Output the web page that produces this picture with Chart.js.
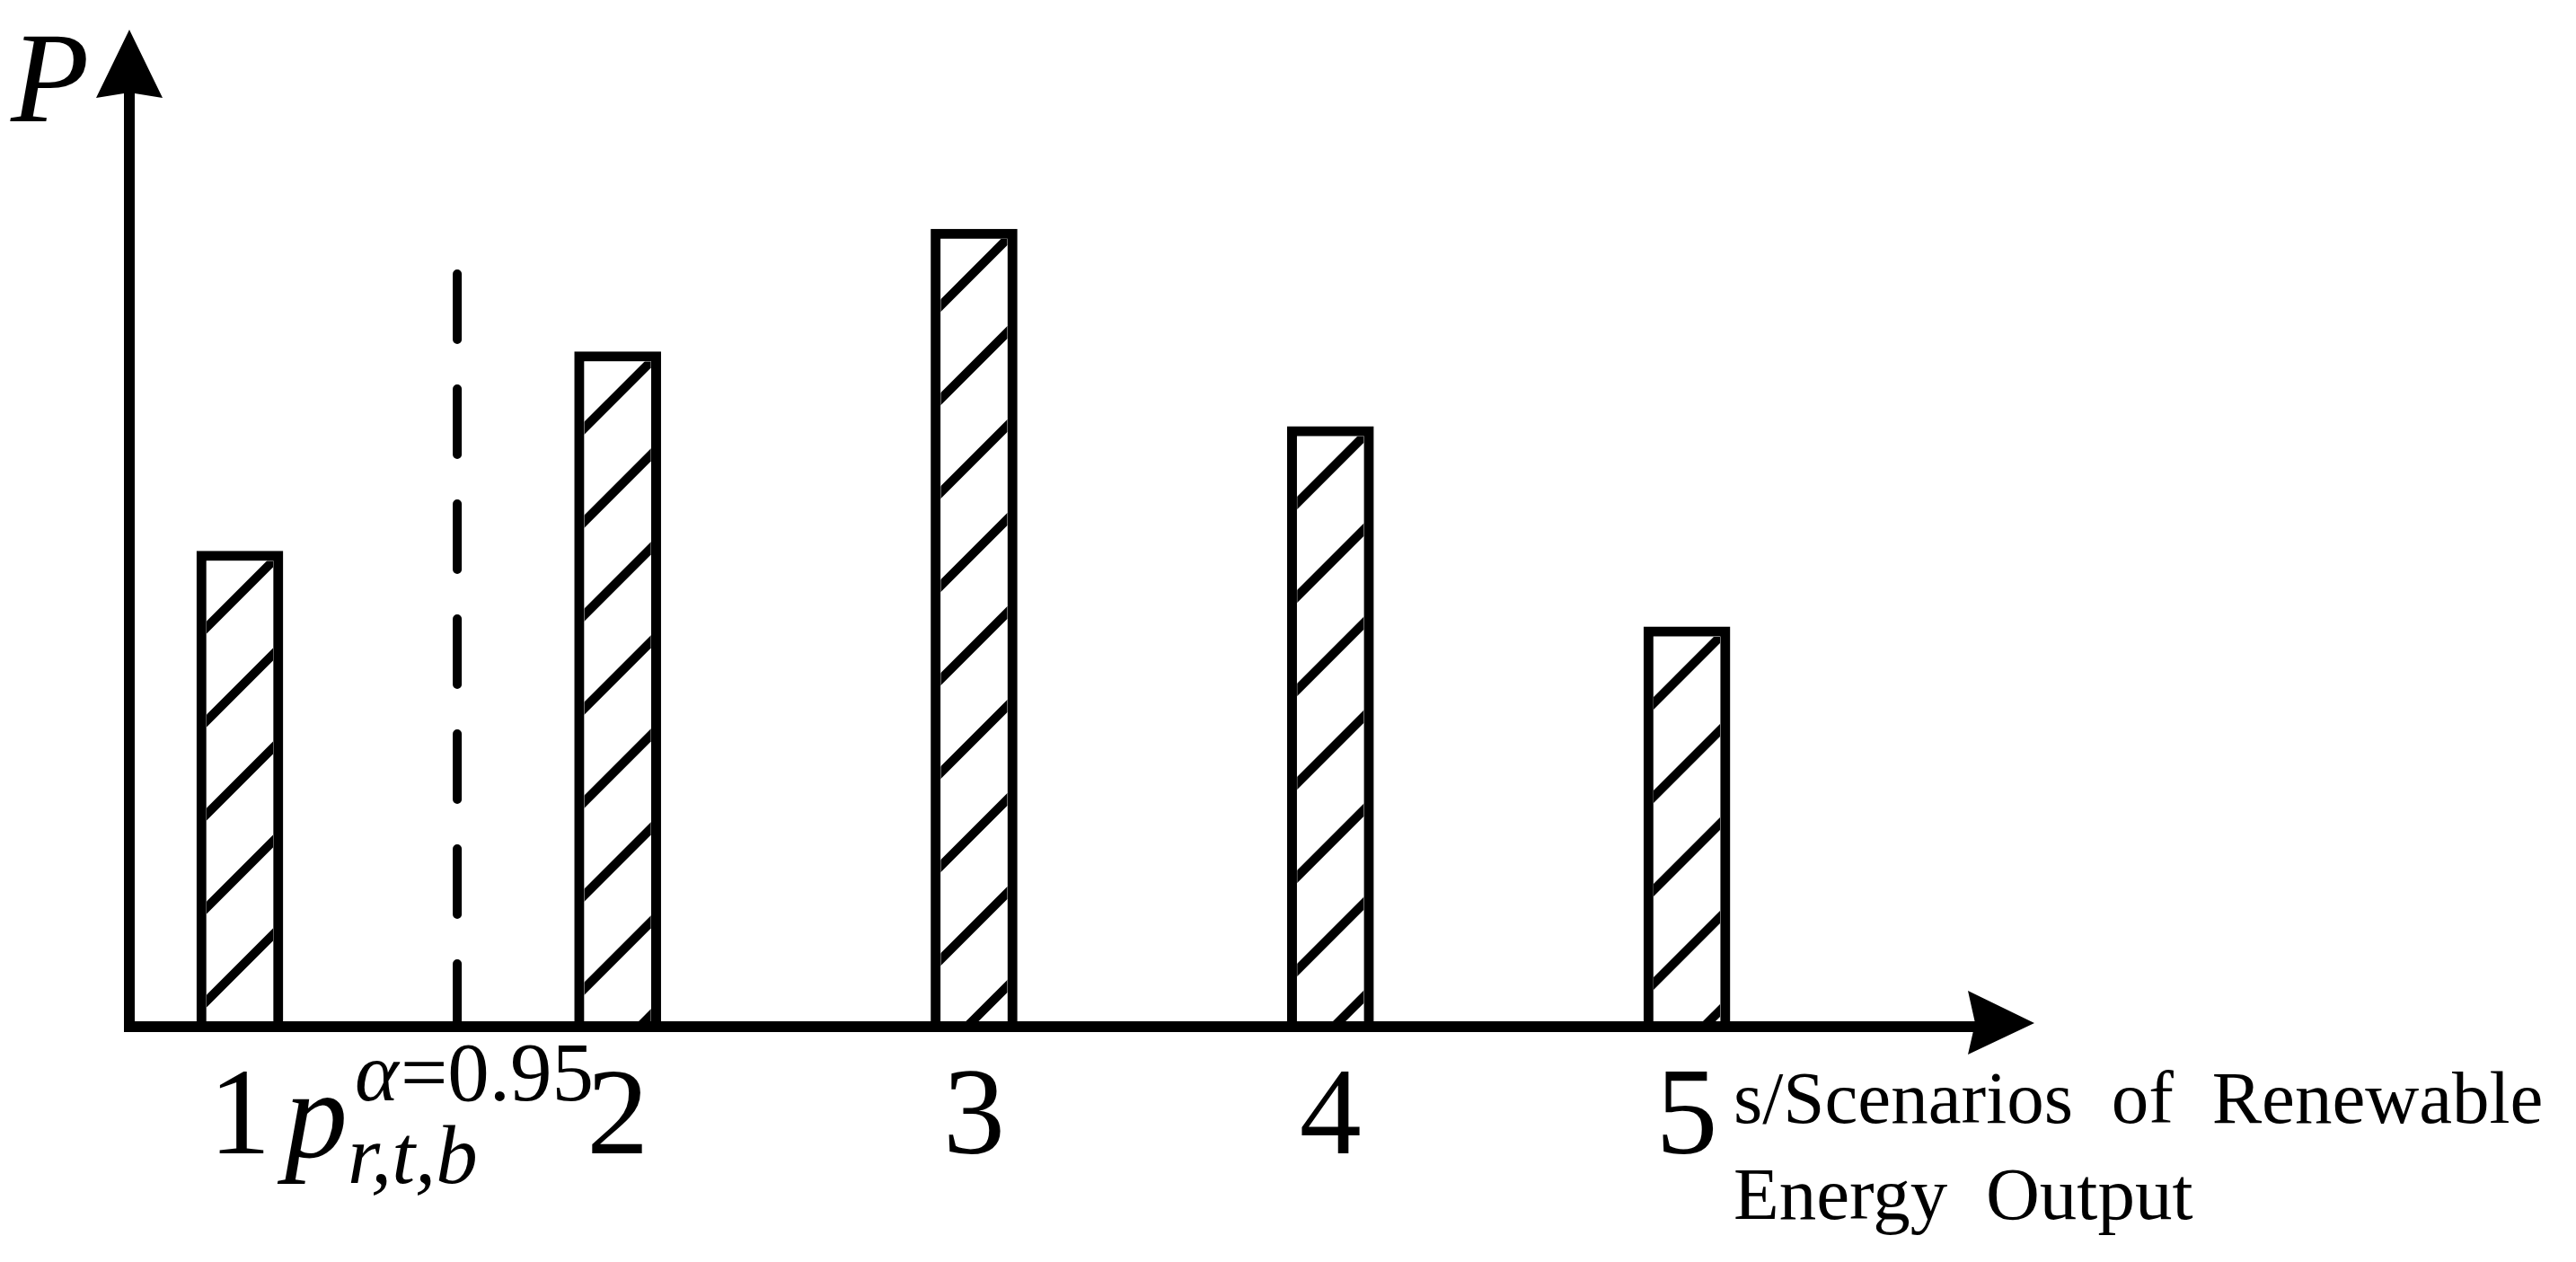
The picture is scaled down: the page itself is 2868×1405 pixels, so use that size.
<!DOCTYPE html>
<html>
<head>
<meta charset="utf-8">
<script src="https://cdn.jsdelivr.net/npm/chart.js@4/dist/chart.umd.min.js"></script>
<style>
  html, body { margin: 0; padding: 0; background: #fff; }
  canvas { display: block; }
</style>
</head>
<body>
<canvas id="chart" width="2868" height="1405"></canvas>
<script>
// Scénarios de production renouvelable (unités arbitraires)
const scenarioLabels = ['1', '2', '3', '4', '5'];
const scenarioPos = [0.94, 2, 3, 4, 5];
const powerValues = [4.77, 6.77, 8.0, 6.02, 4.01];

// Seuil p^{α=0.95} (ligne en pointillés)
const varPos = 1.55;
const varTop = 7.55;

const xRange = [0.63, 5.975];
const yRange = [0, 10];

const axisTitleLines = ['s/Scenarios of Renewable', 'Energy Output'];
const SERIF = '"Liberation Serif", "Times New Roman", serif';

// Hachures "/" dans chaque barre
const hatchPlugin = {
    id: 'hatch',
    afterDatasetDraw(chart, args) {
        if (args.index !== 0) return;
        const ctx = chart.ctx;
        const bw = 11, step = 104;
        chart.getDatasetMeta(0).data.forEach(bar => {
            const { x, y, base, width } = bar.getProps(['x', 'y', 'base', 'width'], true);
            const l = x - width / 2 + bw, r = x + width / 2 - bw, t = y + bw;
            const w = r - l;
            ctx.save();
            ctx.beginPath();
            ctx.rect(l, t, w, base - t);
            ctx.clip();
            ctx.strokeStyle = '#000';
            ctx.lineWidth = 10;
            for (let yy = t; yy < base + w; yy += step) {
                ctx.beginPath();
                ctx.moveTo(r + 20, yy - 20);
                ctx.lineTo(l - 20, yy + w + 20);
                ctx.stroke();
            }
            ctx.restore();
        });
    }
};

// Axes avec flèches + textes
const axesPlugin = {
    id: 'axes',
    afterDraw(chart) {
        const ctx = chart.ctx;
        const { left, right, top, bottom } = chart.chartArea;
        ctx.save();
        ctx.fillStyle = '#000';
        ctx.strokeStyle = '#000';
        ctx.lineWidth = 12;
        ctx.lineCap = 'butt';
        // axe vertical
        ctx.beginPath();
        ctx.moveTo(left, bottom + 6);
        ctx.lineTo(left, top + 70);
        ctx.stroke();
        // axe horizontal
        ctx.beginPath();
        ctx.moveTo(left - 6, bottom);
        ctx.lineTo(right - 65, bottom);
        ctx.stroke();
        // flèche haut
        ctx.beginPath();
        ctx.moveTo(left, top);
        ctx.lineTo(left + 37, top + 76);
        ctx.lineTo(left, top + 70);
        ctx.lineTo(left - 37, top + 76);
        ctx.closePath();
        ctx.fill();
        // flèche droite
        ctx.beginPath();
        ctx.moveTo(right, bottom - 4);
        ctx.lineTo(right - 74, bottom - 40);
        ctx.lineTo(right - 66, bottom - 4);
        ctx.lineTo(right - 74, bottom + 31);
        ctx.closePath();
        ctx.fill();

        ctx.textBaseline = 'alphabetic';
        ctx.textAlign = 'left';
        // P
        ctx.font = 'italic 143px ' + SERIF;
        ctx.fillText('P', 12, 135);

        // p_{r,t,b}^{α=0.95}
        const vx = chart.scales.x.getPixelForValue(varPos);
        const px = vx - 192;
        ctx.font = 'italic 140px ' + SERIF;
        ctx.fillText('p', px, 1288);
        const pw = ctx.measureText('p').width;
        ctx.font = 'italic 93px ' + SERIF;
        ctx.fillText('r,t,b', px + pw, 1317);
        ctx.fillText('α', px + pw + 8, 1225);
        const aw = ctx.measureText('α').width;
        ctx.font = '93px ' + SERIF;
        ctx.fillText('=0.95', px + pw + 8 + aw + 2, 1225);

        // titre de l'axe x
        ctx.font = '83px ' + SERIF;
        const space = ctx.measureText(' ').width + 22;
        axisTitleLines.forEach((line, i) => {
            let tx = 1930;
            line.split(' ').forEach(word => {
                ctx.fillText(word, tx, 1250 + i * 107);
                tx += ctx.measureText(word).width + space;
            });
        });
        ctx.restore();
    }
};

new Chart(document.getElementById('chart').getContext('2d'), {
    type: 'bar',
    data: {
        datasets: [{
            type: 'bar',
            data: scenarioPos.map((x, i) => ({ x, y: powerValues[i] })),
            backgroundColor: '#fff',
            borderColor: '#000',
            borderWidth: 11,
            barThickness: 96,
            order: 2
        }, {
            type: 'line',
            data: [{ x: varPos, y: varTop }, { x: varPos, y: 0 }],
            borderColor: '#000',
            borderWidth: 10,
            borderDash: [73, 55],
            borderCapStyle: 'round',
            pointRadius: 0,
            fill: false,
            order: 1
        }]
    },
    options: {
        responsive: false,
        animation: false,
        layout: { padding: { left: 144, right: 603, top: 33, bottom: 0 } },
        plugins: { legend: { display: false }, tooltip: { enabled: false } },
        scales: {
            x: {
                type: 'linear',
                offset: false,
                min: xRange[0],
                max: xRange[1],
                grid: { display: false, drawTicks: false, offset: false },
                border: { display: false },
                afterBuildTicks: s => { s.ticks = scenarioPos.map(v => ({ value: v })); },
                afterFit: s => { s.height = 262; },
                ticks: {
                    callback: (v, i) => scenarioLabels[i],
                    font: { family: SERIF, size: 138 },
                    color: '#000',
                    padding: 22,
                    maxRotation: 0,
                    autoSkip: false
                }
            },
            y: {
                display: false,
                min: yRange[0],
                max: yRange[1]
            }
        }
    },
    plugins: [hatchPlugin, axesPlugin]
});
</script>
</body>
</html>
